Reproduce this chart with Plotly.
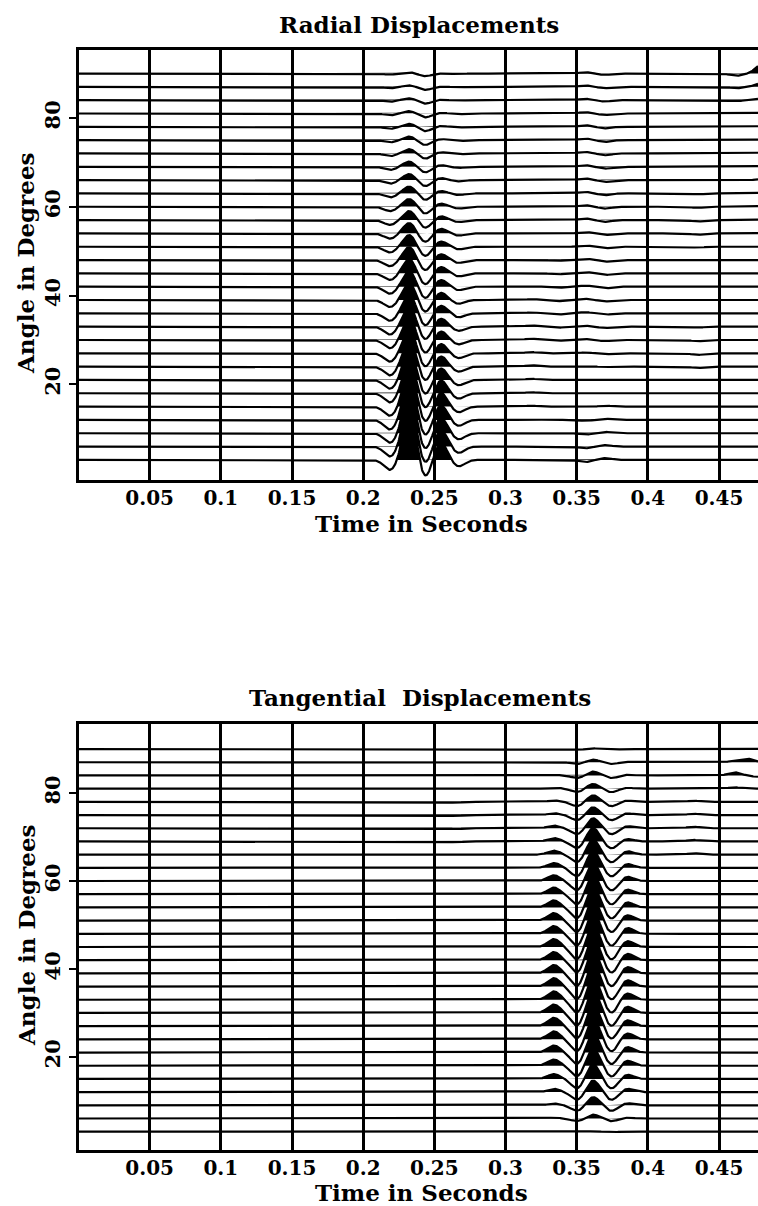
import numpy as np
import plotly.graph_objects as go

# ---------------- data ----------------
ANGLES = [3, 6, 9, 12, 15, 18, 21, 24, 27, 30, 33, 36, 39, 42, 45,
          48, 51, 54, 57, 60, 63, 66, 69, 72, 75, 78, 81, 84, 87, 90]
TIME_TICKS = [0.05, 0.1, 0.15, 0.2, 0.25, 0.3, 0.35, 0.4, 0.45]
TIME_TICK_LABELS = ["0.05", "0.1", "0.15", "0.2", "0.25", "0.3", "0.35", "0.4", "0.45"]
ANGLE_TICKS = [20, 40, 60, 80]
ANGLE_TICK_LABELS = ["20", "40", "60", "80"]

# Radial displacements: arrival times (s) and per-angle signed amplitudes (deg of deflection)
RADIAL_TIMES = [0.219, 0.2325, 0.2435, 0.2545, 0.267, 0.318, 0.336, 0.356, 0.370, 0.435, 0.462, 0.480]
radial_trough_219 = [-2.3, -2.3, -2.2, -2.2, -2.1, -2.1, -2.0, -2.0, -1.9, -1.9, -1.8, -1.7, -1.6, -1.6, -1.5,
                     -1.4, -1.3, -1.2, -1.1, -1.0, -0.9, -0.8, -0.7, -0.6, -0.5, -0.45, -0.4, -0.35, -0.3, -0.25]
radial_peak_232 = [10.5, 10.0, 9.4, 8.8, 8.1, 7.5, 6.9, 6.3, 5.8, 5.3, 4.8, 4.4, 4.0, 3.65, 3.3,
                   3.0, 2.7, 2.4, 2.1, 1.8, 1.6, 1.4, 1.2, 1.0, 0.85, 0.7, 0.55, 0.45, 0.35, 0.3]
radial_trough_244 = [-4.0, -3.9, -3.8, -3.7, -3.6, -3.5, -3.4, -3.3, -3.2, -3.1, -3.0, -2.9, -2.8, -2.7, -2.6,
                     -2.4, -2.2, -2.0, -1.8, -1.6, -1.5, -1.4, -1.3, -1.2, -1.1, -1.0, -0.9, -0.8, -0.7, -0.6]
radial_peak_254 = [4.0, 3.8, 3.6, 3.4, 3.2, 3.0, 2.7, 2.4, 2.2, 2.0, 1.9, 1.8, 1.7, 1.6, 1.5,
                   1.4, 1.25, 1.1, 0.9, 0.75, 0.6, 0.5, 0.4, 0.3, 0.25, 0.2, 0.15, 0.1, 0.05, 0.0]
radial_trough_267 = [-1.5, -1.45, -1.4, -1.35, -1.3, -1.25, -1.2, -1.15, -1.1, -1.0, -0.95, -0.9, -0.85, -0.8, -0.7,
                     -0.65, -0.6, -0.5, -0.45, -0.4, -0.35, -0.3, -0.25, -0.2, -0.2, -0.15, -0.15, -0.1, -0.1, -0.1]
radial_small_318 = [0.0, 0.0, 0.1, 0.15, 0.2, 0.25, 0.25, 0.3, 0.3, 0.3, 0.25, 0.2, 0.2, 0.15, 0.1,
                    0.1, 0.0, 0.0, 0.0, 0.0, 0.0, 0.0, 0.0, 0.0, 0.0, 0.0, 0.0, 0.0, 0.0, 0.0]
radial_small_336 = [0.0, 0.0, 0.0, 0.0, 0.0, 0.0, 0.0, 0.0, 0.0, -0.2, -0.25, -0.3, -0.3, -0.3, -0.25,
                    -0.2, -0.15, -0.1, 0.0, 0.0, 0.0, 0.0, 0.0, 0.0, 0.0, 0.0, 0.0, 0.0, 0.0, 0.0]
radial_small_356 = [-0.5, -0.4, -0.3, -0.2, -0.1, 0.0, 0.1, 0.15, 0.2, 0.2, 0.2, 0.25, 0.25, 0.25, 0.3,
                    0.3, 0.3, 0.3, 0.35, 0.35, 0.35, 0.35, 0.35, 0.35, 0.35, 0.35, 0.3, 0.3, 0.3, 0.3]
radial_small_370 = [0.4, 0.35, 0.3, 0.25, 0.2, 0.1, 0.0, -0.1, -0.2, -0.25, -0.3, -0.3, -0.3, -0.35, -0.35,
                    -0.35, -0.35, -0.35, -0.4, -0.4, -0.4, -0.4, -0.4, -0.4, -0.4, -0.35, -0.35, -0.3, -0.3, -0.3]
radial_small_435 = [0.0, 0.0, 0.0, 0.0, 0.0, 0.0, 0.0, -0.3, -0.35, -0.3, -0.2, -0.1, 0.0, 0.0, 0.0,
                    0.0, -0.2, -0.3, -0.3, -0.25, -0.2, -0.1, 0.0, 0.0, 0.0, 0.0, 0.0, 0.0, 0.0, 0.0]
radial_dip_462 = [0.0, 0.0, 0.0, 0.0, 0.0, 0.0, 0.0, 0.0, 0.0, 0.0, 0.0, 0.0, 0.0, 0.0, 0.0,
                  0.0, 0.0, 0.0, 0.0, 0.0, 0.0, 0.0, 0.0, 0.0, 0.0, 0.0, 0.0, -0.2, -0.3, -0.5]
radial_peak_480 = [0.0, 0.0, 0.0, 0.0, 0.0, 0.0, 0.0, 0.0, 0.0, 0.0, 0.0, 0.0, 0.0, 0.0, 0.0,
                   0.0, 0.0, 0.1, 0.15, 0.15, 0.15, 0.2, 0.2, 0.2, 0.15, 0.15, 0.15, 0.35, 0.85, 2.0]
RADIAL_AMPS = [radial_trough_219, radial_peak_232, radial_trough_244, radial_peak_254,
               radial_trough_267, radial_small_318, radial_small_336, radial_small_356,
               radial_small_370, radial_small_435, radial_dip_462, radial_peak_480]

# Tangential displacements
TANGENTIAL_TIMES = [0.265, 0.334, 0.3505, 0.3615, 0.3745, 0.3855, 0.432, 0.461, 0.470, 0.477]
tangential_small_265 = [0.0, 0.0, 0.0, 0.0, 0.0, 0.0, 0.0, 0.0, 0.0, 0.0, 0.0, 0.0, 0.0, 0.0, 0.0,
                        0.0, 0.0, 0.0, 0.0, 0.0, -0.1, -0.15, -0.2, -0.2, -0.2, -0.2, -0.15, -0.1, 0.0, 0.0]
tangential_peak_334 = [0.0, 0.2, 0.4, 0.75, 1.1, 1.4, 1.6, 1.8, 1.9, 1.9, 1.9, 1.9, 1.9, 1.85, 1.8,
                       1.75, 1.7, 1.6, 1.5, 1.3, 1.1, 0.9, 0.75, 0.6, 0.4, 0.3, 0.25, 0.15, 0.1, 0.05]
tangential_trough_350 = [-0.1, -0.6, -1.3, -1.8, -2.2, -2.5, -2.7, -2.8, -2.9, -3.0, -3.0, -3.0, -3.0, -2.9, -2.9,
                         -2.8, -2.7, -2.6, -2.4, -2.2, -2.0, -1.8, -1.6, -1.4, -1.2, -1.0, -0.8, -0.6, -0.4, -0.15]
tangential_peak_361 = [0.1, 0.9, 1.9, 2.7, 3.4, 4.0, 4.5, 4.9, 5.1, 5.3, 5.4, 5.4, 5.4, 5.4, 5.3,
                       5.2, 5.0, 4.8, 4.5, 4.2, 3.9, 3.5, 3.1, 2.3, 1.8, 1.5, 1.1, 0.9, 0.6, 0.15]
tangential_trough_374 = [-0.1, -0.6, -1.3, -1.8, -2.2, -2.5, -2.7, -2.8, -2.9, -3.0, -3.0, -3.0, -3.0, -2.9, -2.9,
                         -2.8, -2.7, -2.6, -2.4, -2.2, -2.0, -1.8, -1.6, -1.4, -1.2, -1.0, -0.8, -0.6, -0.4, -0.15]
tangential_peak_385 = [0.0, 0.2, 0.5, 0.8, 1.0, 1.2, 1.3, 1.4, 1.4, 1.5, 1.5, 1.5, 1.5, 1.5, 1.4,
                       1.4, 1.3, 1.2, 1.1, 1.0, 0.9, 0.8, 0.6, 0.5, 0.4, 0.3, 0.2, 0.15, 0.1, 0.0]
tangential_small_432 = [0.0, 0.0, 0.0, 0.0, 0.0, 0.0, 0.0, 0.0, 0.0, 0.0, 0.0, 0.0, 0.0, 0.0, 0.0,
                        0.0, 0.0, 0.0, 0.0, 0.0, 0.1, 0.3, 0.35, 0.35, 0.3, 0.25, 0.0, 0.0, 0.0, 0.0]
tangential_peak_461 = [0.0, 0.0, 0.0, 0.0, 0.0, 0.0, 0.0, 0.0, 0.0, 0.0, 0.0, 0.0, 0.0, 0.0, 0.0,
                       0.0, 0.0, 0.0, 0.0, 0.0, 0.0, 0.0, 0.0, 0.0, 0.0, 0.0, 0.3, 0.7, 0.3, 0.0]
tangential_peak_470 = [0.0, 0.0, 0.0, 0.0, 0.0, 0.0, 0.0, 0.0, 0.0, 0.0, 0.0, 0.0, 0.0, 0.0, 0.0,
                       0.0, 0.0, 0.0, 0.0, 0.0, 0.0, 0.0, 0.0, 0.0, 0.0, 0.0, 0.0, 0.0, 0.8, 0.1]
tangential_dip_477 = [0.0, 0.0, 0.0, 0.0, 0.0, 0.0, 0.0, 0.0, 0.0, 0.0, 0.0, 0.0, 0.0, 0.0, 0.0,
                      0.0, 0.0, 0.0, 0.0, 0.0, 0.0, 0.0, 0.0, 0.0, 0.0, 0.0, 0.0, -0.3, 0.0, 0.0]
TANGENTIAL_AMPS = [tangential_small_265, tangential_peak_334, tangential_trough_350, tangential_peak_361,
                   tangential_trough_374, tangential_peak_385, tangential_small_432, tangential_peak_461,
                   tangential_peak_470, tangential_dip_477]

# ---------------- drawing ----------------
T_MAX = 0.4774
PULSE_WIDTH = 0.0043
t = np.linspace(0.0, T_MAX, 1500)

FONT = "DejaVu Serif"
W, H = 758, 1206


def wiggle_traces(times, amps, xref, yref):
    out = []
    lines = []
    for i, ang in enumerate(ANGLES):
        w = np.zeros_like(t)
        for tk, ak in zip(times, amps):
            a = ak[i]
            if a != 0:
                w += a * np.exp(-0.5 * ((t - tk) / PULSE_WIDTH) ** 2)
        y = ang + w
        pos = ang + np.maximum(w, 0)
        out.append(go.Scatter(
            x=np.concatenate([t, t[::-1]]),
            y=np.concatenate([pos, np.full_like(t, ang)]),
            mode="lines", fill="toself", fillcolor="black",
            line=dict(width=0, color="black"),
            xaxis=xref, yaxis=yref, hoverinfo="skip", showlegend=False))
        lines.append(go.Scatter(
            x=t, y=y, mode="lines", line=dict(width=2.2, color="black"),
            xaxis=xref, yaxis=yref, hoverinfo="skip", showlegend=False))
    return out + lines


fig = go.Figure()
for tr in wiggle_traces(RADIAL_TIMES, RADIAL_AMPS, "x", "y"):
    fig.add_trace(tr)
for tr in wiggle_traces(TANGENTIAL_TIMES, TANGENTIAL_AMPS, "x2", "y2"):
    fig.add_trace(tr)

tickfont = dict(family=FONT, size=20, color="black", weight="bold")
xdom = [78.5 / W, 1.0]


def xaxis_cfg():
    return dict(domain=xdom, range=[0, T_MAX], tickvals=TIME_TICKS, ticktext=TIME_TICK_LABELS,
                showgrid=True, gridcolor="black", gridwidth=2.5, zeroline=False,
                showline=True, linecolor="black", linewidth=2.5, mirror=True,
                ticks="", tickfont=tickfont, ticklabelstandoff=-2, fixedrange=True)


def yaxis_cfg(dom, rng, anchor):
    return dict(domain=dom, range=rng, tickvals=ANGLE_TICKS, ticktext=ANGLE_TICK_LABELS,
                showgrid=False, zeroline=False, showline=True, linecolor="black", linewidth=2.5,
                ticks="outside", ticklen=7, tickwidth=2, tickcolor="black",
                tickangle=-90, tickfont=dict(family=FONT, size=21, color="black", weight="bold"),
                anchor=anchor, fixedrange=True)


top_dom = [1 - 480 / H, 1 - 50 / H]
bot_dom = [1 - 1150 / H, 1 - 724 / H]

fig.update_layout(
    width=W, height=H, margin=dict(l=0, r=0, t=0, b=0),
    paper_bgcolor="white", plot_bgcolor="white", showlegend=False,
    xaxis=dict(**xaxis_cfg(), anchor="y"),
    yaxis=yaxis_cfg(top_dom, [-1.53, 95.3], "x"),
    xaxis2=dict(**xaxis_cfg(), anchor="y2"),
    yaxis2=yaxis_cfg(bot_dom, [-1.16, 95.7], "x2"),
)

title_font = dict(family=FONT, size=23, color="black", weight="bold")
label_font = dict(family=FONT, size=23, color="black", weight="bold")


def ann(text, xpx, ypx, font, angle=0):
    return dict(text=text, x=xpx / W, y=1 - ypx / H, xref="paper", yref="paper",
                xanchor="center", yanchor="middle", showarrow=False, font=font, textangle=angle)


fig.update_layout(annotations=[
    ann("Radial Displacements", 419, 24, title_font),
    ann("Time in Seconds", 421, 523, label_font),
    ann("Angle in Degrees", 26, 263, label_font, -90),
    ann("Tangential&nbsp; Displacements", 420, 697, title_font),
    ann("Time in Seconds", 421, 1192, label_font),
    ann("Angle in Degrees", 26, 935, label_font, -90),
])

fig.write_html("out.html", config={"displayModeBar": False},
               post_script="document.body.style.margin='0';document.body.style.overflow='hidden';")
